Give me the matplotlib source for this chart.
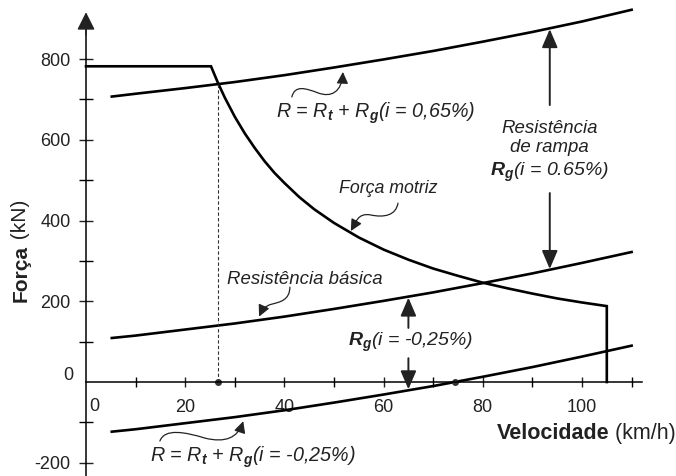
import numpy as np
import matplotlib
matplotlib.use("Agg")
import matplotlib.pyplot as plt
from matplotlib.patches import FancyArrowPatch
from matplotlib.path import Path

plt.rcParams['font.family'] = ['Liberation Sans', 'DejaVu Sans']
plt.rcParams['axes.unicode_minus'] = False
plt.rcParams['mathtext.fontset'] = 'custom'
plt.rcParams['mathtext.rm'] = 'Liberation Sans:italic'
plt.rcParams['mathtext.it'] = 'Liberation Sans:italic'
plt.rcParams['mathtext.bf'] = 'Liberation Sans:italic:bold'
plt.rcParams['mathtext.sf'] = 'Liberation Sans:italic'

# ------------------------------------------------------------------
# Dados
# ------------------------------------------------------------------
# Força motriz (kN) x velocidade (km/h)
vel_motriz = [0, 25.2, 26.6, 28, 30, 32, 34, 36, 38, 40, 43, 46, 50, 55, 60, 65, 70,
              75, 80, 85, 90, 95, 100, 105, 105]
forca_motriz = [782, 782, 741, 704, 657, 616, 580, 547, 518, 493, 458, 428, 394, 358,
                328, 303, 281, 263, 246, 232, 219, 207, 197, 188, 0]

# Resistências (kN)
vel_res = [5.2, 10, 20, 30, 40, 50, 60, 70, 80, 90, 100, 110]
res_basica = [109, 115, 130, 145, 162, 181, 201, 222, 245, 269, 295, 322]
res_rampa_sobe = [707, 714, 728, 743, 760, 779, 799, 820, 843, 867, 893, 922]   # i = 0,65%
res_rampa_desce = [-123, -117, -102, -87, -70, -51, -31, -10, 13, 37, 63, 90]  # i = -0,25%

# velocidades de equilíbrio
v_equilibrio = [26.6, 74.3]

x_ticks_lab = [20, 40, 60, 80, 100]
x_ticks_min = [10, 30, 50, 70, 90, 110]
y_ticks_lab = [-200, 200, 400, 600, 800]
y_ticks_min = [-100, 100, 300, 500, 700]

COR = '#222222'

# ------------------------------------------------------------------
fig = plt.figure(figsize=(6.76, 4.76), dpi=100)
ax = fig.add_axes([0, 0, 1, 1])
ax.set_xlim(-17.34, 118.95)
ax.set_ylim(-232.8, 946.2)

for s in ['top', 'right']:
    ax.spines[s].set_visible(False)
ax.spines['left'].set_position(('data', 0))
ax.spines['bottom'].set_position(('data', 0))
ax.spines['left'].set_bounds(-232.8, 890)
ax.spines['bottom'].set_bounds(0, 112)
ax.spines['left'].set_linewidth(1.1)
ax.spines['bottom'].set_linewidth(1.1)

ax.set_xticks(x_ticks_lab)
ax.set_xticks(x_ticks_min, minor=True)
ax.set_yticks(y_ticks_lab)
ax.set_yticks(y_ticks_min, minor=True)
ax.tick_params(which='both', direction='inout', width=1.0)
ax.tick_params(axis='x', which='both', length=7)
ax.tick_params(axis='y', which='both', length=9.5)
ax.tick_params(axis='both', labelsize=13, colors=COR)
ax.tick_params(axis='x', pad=9)
ax.tick_params(axis='y', pad=6.5)
ax.patch.set_visible(False)

# setas dos eixos
ax.annotate('', xy=(0, 916), xytext=(0, 860),
            arrowprops=dict(arrowstyle='-|>,head_length=0.6,head_width=0.3',
                            mutation_scale=18, color=COR, lw=1.1, shrinkA=0, shrinkB=0))
ax.annotate('', xy=(119.2, 0), xytext=(110, 0),
            arrowprops=dict(arrowstyle='-|>,head_length=0.6,head_width=0.3',
                            mutation_scale=18, color=COR, lw=1.1, shrinkA=0, shrinkB=0))

ax.text(1.6, -60, '0', fontsize=13, ha='center', va='center', color=COR)
ax.text(-2.6, 17, '0', fontsize=13, ha='right', va='center', color=COR)

# curvas
ax.plot(vel_motriz, forca_motriz, color='black', lw=1.9, solid_joinstyle='miter')
ax.plot(vel_res, res_rampa_sobe, color='black', lw=1.9)
ax.plot(vel_res, res_basica, color='black', lw=1.9)
ax.plot(vel_res, res_rampa_desce, color='black', lw=1.9)

# linha tracejada e pontos de equilíbrio
ax.plot([v_equilibrio[0], v_equilibrio[0]], [0, forca_motriz[2]], color='#333333',
        lw=0.8, ls=(0, (3, 2)))
ax.plot(v_equilibrio, [0, 0], 'o', color='#333333', ms=4)

# rótulos dos eixos
xl = ax.annotate('Velocidade', xy=(0.735, 0.09), xycoords='figure fraction', fontsize=15.5,
                 fontweight='bold', ha='left', va='center', color=COR)
ax.annotate(' (km/h)', xy=(1, 0), xycoords=xl, fontsize=15.5, ha='left', va='bottom', color=COR)
yl = ax.annotate('Força', xy=(0.031, 0.365), xycoords='figure fraction', fontsize=15,
                 fontweight='bold', rotation=90, ha='center', va='bottom', color=COR)
ax.annotate(' (kN)', xy=(0, 1), xycoords=yl, fontsize=15, rotation=90,
            ha='left', va='bottom', color=COR)

# textos das curvas
ax.text(58.3, 666, r'R = R$_\mathbf{t}$ + R$_\mathbf{g}$(i = 0,65%)', fontsize=14.2,
        style='italic', ha='center', va='center', color=COR)
ax.text(33.7, -186, r'R = R$_\mathbf{t}$ + R$_\mathbf{g}$(i = -0,25%)', fontsize=14.2,
        style='italic', ha='center', va='center', color=COR)
ax.text(60.9, 480, 'Força motriz', fontsize=12.8, style='italic', ha='center', va='center',
        color=COR)
ax.text(44.2, 255, 'Resistência básica', fontsize=13.4, style='italic', ha='center',
        va='center', color=COR)
ax.text(93.5, 629, 'Resistência', fontsize=13.4, style='italic', ha='center', va='center',
        color=COR)
ax.text(93.5, 580, 'de rampa', fontsize=13.4, style='italic', ha='center', va='center',
        color=COR)
ax.text(93.5, 520, r'$\mathbf{R}_\mathbf{g}$(i = 0.65%)', fontsize=14, style='italic',
        ha='center', va='center', color=COR)
ax.text(65.5, 99, r'$\mathbf{R}_\mathbf{g}$(i = -0,25%)', fontsize=14, style='italic',
        ha='center', va='center', color=COR)

# setas verticais
seta = dict(arrowstyle='-|>,head_length=0.7,head_width=0.3', mutation_scale=16,
            color=COR, lw=1.4, shrinkA=0, shrinkB=0)
ax.annotate('', xy=(93.5, 874), xytext=(93.5, 686), arrowprops=seta)
ax.annotate('', xy=(93.5, 280), xytext=(93.5, 468), arrowprops=seta)
ax.annotate('', xy=(65, 209), xytext=(65, 134), arrowprops=seta)
ax.annotate('', xy=(65, -18), xytext=(65, 59), arrowprops=seta)

# setas onduladas
def onda(pts):
    codes = [Path.MOVETO] + [Path.CURVE4] * (len(pts) - 1)
    p = FancyArrowPatch(path=Path(pts, codes), arrowstyle='-|>,head_length=0.5,head_width=0.25',
                        mutation_scale=14, color=COR, lw=0.9)
    ax.add_patch(p)

onda([(41.5, 706), (42.1, 736), (44.2, 728), (46.8, 716), (49.4, 704), (51.6, 718), (51.8, 768)])
onda([(62.9, 443), (62.5, 414), (60.3, 406), (57.3, 414), (54.8, 419), (54.4, 396), (53.4, 374)])
onda([(41.1, 235), (41.1, 203), (39.1, 198), (37.5, 193), (35.9, 188), (35.5, 178), (34.9, 162)])
onda([(14.9, -146), (15.9, -114), (20.0, -124), (24.0, -139), (28.0, -151), (30.6, -139), (31.7, -97)])

plt.savefig('out.png', dpi=100)
